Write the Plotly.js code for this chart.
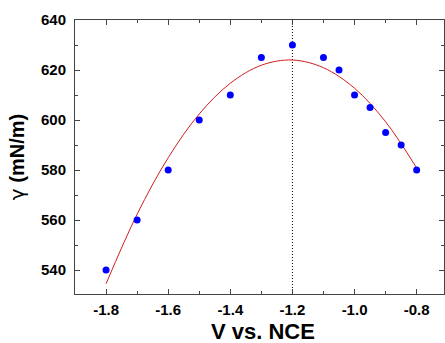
<!DOCTYPE html>
<html>
<head>
<meta charset="utf-8">
<script src="https://cdn.plot.ly/plotly-3.0.1.min.js"></script>
<style>html,body{margin:0;padding:0;background:#fff;}#chart{width:445px;height:343px;}</style>
</head>
<body>
<div id="chart"></div>
<script>
// Measured data points
var voltage = [-1.8, -1.7, -1.6, -1.5, -1.4, -1.3, -1.2, -1.1, -1.05, -1.0, -0.95, -0.9, -0.85, -0.8];
var gamma = [540, 560, 580, 600, 610, 625, 630, 625, 620, 610, 605, 595, 590, 580];
// Fitted curve
var fitV = [-1.8, -1.7, -1.6, -1.5, -1.4, -1.3, -1.2, -1.1, -1.0, -0.9, -0.8];
var fitGamma = [534.5, 562.3, 584.9, 602.4, 614.7, 621.9, 624.0, 620.9, 612.7, 599.3, 580.8];
// Vertical marker
var markerV = [-1.2, -1.2];
var markerY = [530.4, 640];
var xTitle = 'V vs. NCE';

var axisFont = {family: 'Liberation Sans, Arial, sans-serif', size: 15, color: '#000', weight: 'bold'};
var xTitleFont = {family: 'Liberation Sans, Arial, sans-serif', size: 22, color: '#000', weight: 'bold'};
var yTitleFont = {family: 'Liberation Sans, Arial, sans-serif', size: 20, color: '#000', weight: 'bold'};

var traces = [
  {x: markerV, y: markerY, mode: 'lines', line: {color: '#000', width: 1, dash: '1px,2px'}, hoverinfo: 'skip'},
  {x: fitV, y: fitGamma, mode: 'lines', line: {color: 'rgb(210,30,30)', width: 1, shape: 'spline'}},
  {x: voltage, y: gamma, mode: 'markers', marker: {color: '#0000ff', size: 7}}
];

var layout = {
  width: 445, height: 343,
  margin: {l: 75, r: 1, t: 20, b: 49},
  showlegend: false,
  paper_bgcolor: '#fff', plot_bgcolor: '#fff',
  xaxis: {
    range: [-1.9, -0.712],
    tickvals: [-1.8, -1.6, -1.4, -1.2, -1.0, -0.8],
    ticktext: ['-1.8', '-1.6', '-1.4', '-1.2', '-1.0', '-0.8'],
    ticks: 'inside', ticklen: 5, tickwidth: 1, tickcolor: '#444',
    minor: {tickvals: [-1.7, -1.5, -1.3, -1.1, -0.9], ticks: 'inside', ticklen: 3, tickcolor: '#444', showgrid: false},
    showline: true, linecolor: '#444', linewidth: 1, mirror: 'ticks',
    showgrid: false, zeroline: false,
    tickfont: axisFont,
    ticklabelstandoff: 2
  },
  yaxis: {
    range: [530.4, 640],
    tickvals: [540, 560, 580, 600, 620, 640],
    ticks: 'inside', ticklen: 5, tickwidth: 1, tickcolor: '#444',
    minor: {tickvals: [550, 570, 590, 610, 630], ticks: 'inside', ticklen: 3, tickcolor: '#444', showgrid: false},
    showline: true, linecolor: '#444', linewidth: 1, mirror: 'ticks',
    showgrid: false, zeroline: false,
    tickfont: axisFont,
    ticklabelstandoff: 5,
    title: {text: '<span style="font-weight:normal;font-family:DejaVu Sans">γ</span> (mN/m)', font: yTitleFont, standoff: 10}
  },
  annotations: [{
    text: xTitle, xref: 'paper', yref: 'paper', x: 0.51, y: -0.19,
    xanchor: 'center', yanchor: 'bottom', showarrow: false, font: xTitleFont
  }]
};

Plotly.newPlot('chart', traces, layout, {displayModeBar: false, staticPlot: true});
</script>
</body>
</html>
